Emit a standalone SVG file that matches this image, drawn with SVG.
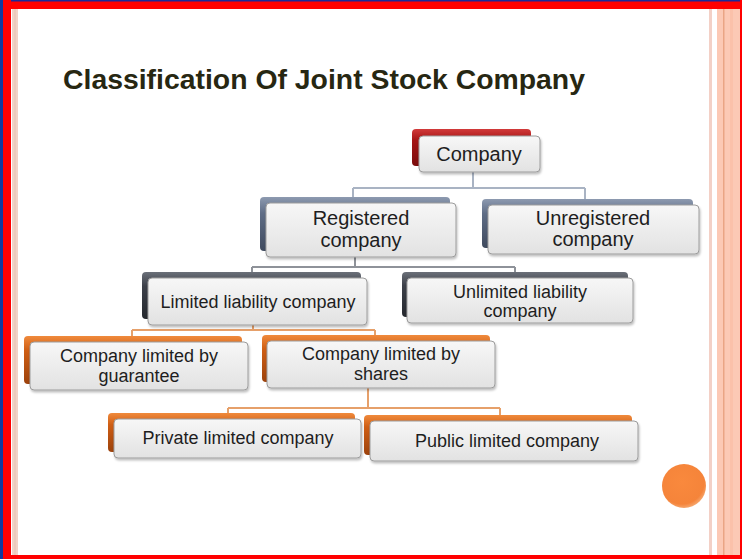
<svg xmlns="http://www.w3.org/2000/svg" width="742" height="559" viewBox="0 0 742 559">
<defs>
<linearGradient id="gFront" x1="0" y1="0" x2="0" y2="1">
<stop offset="0" stop-color="#f7f7f7"/><stop offset="1" stop-color="#e2e2e2"/>
</linearGradient>
<linearGradient id="gRed" x1="0" y1="0" x2="0" y2="1">
<stop offset="0" stop-color="#d23a3a"/><stop offset="0.3" stop-color="#a51515"/><stop offset="1" stop-color="#7a0c0c"/>
</linearGradient>
<linearGradient id="gSlate" x1="0" y1="0" x2="0" y2="1">
<stop offset="0" stop-color="#8d9ab0"/><stop offset="0.3" stop-color="#5f6d86"/><stop offset="1" stop-color="#3f4a5e"/>
</linearGradient>
<linearGradient id="gDark" x1="0" y1="0" x2="0" y2="1">
<stop offset="0" stop-color="#6b7079"/><stop offset="0.3" stop-color="#3c4049"/><stop offset="1" stop-color="#25282e"/>
</linearGradient>
<linearGradient id="gOrange" x1="0" y1="0" x2="0" y2="1">
<stop offset="0" stop-color="#f08a3c"/><stop offset="0.3" stop-color="#cf5e14"/><stop offset="1" stop-color="#9c420c"/>
</linearGradient>
<radialGradient id="gDot" cx="0.45" cy="0.4" r="0.6">
<stop offset="0" stop-color="#f9893d"/><stop offset="0.85" stop-color="#f5843a"/><stop offset="1" stop-color="#f6a46a"/>
</radialGradient>
<filter id="sh" x="-10%" y="-10%" width="125%" height="140%">
<feDropShadow dx="1" dy="2" stdDeviation="1.2" flood-color="#000" flood-opacity="0.25"/>
</filter>
</defs>
<style>
.front{fill:url(#gFront);stroke:#9c9c9c;stroke-width:1;filter:url(#sh)}
.red{fill:url(#gRed)}
.slate{fill:url(#gSlate)}
.dark{fill:url(#gDark)}
.orange{fill:url(#gOrange)}
.t{font-family:"Liberation Sans",Arial,sans-serif;fill:#1e1e1e;text-anchor:middle}
.t20{font-size:20px}
.t18{font-size:18px}
.c1{fill:none;stroke:#a9b3c3;stroke-width:2}
.c2{fill:none;stroke:#8e9299;stroke-width:2}
.c3{fill:none;stroke:#e6a06a;stroke-width:2}
</style>
<!-- background and border -->
<rect x="0" y="0" width="742" height="559" fill="#ffffff"/>
<rect x="12" y="9" width="6" height="546" fill="#f1d3c8"/>
<rect x="14" y="9" width="2" height="546" fill="#eccabd"/>
<rect x="709" y="9" width="3" height="546" fill="#f3d0c6"/>
<rect x="717" y="9" width="23" height="546" fill="#fcc9b5"/>
<rect x="723" y="9" width="1.5" height="546" fill="#eaa585"/>
<rect x="730" y="9" width="3" height="546" fill="#fbc1aa"/>
<rect x="0" y="0" width="742" height="9" fill="#ff0000"/>
<rect x="0" y="0" width="742" height="1.5" fill="#1a2a9a"/>
<rect x="0" y="555" width="742" height="4" fill="#ff0000"/>
<rect x="3" y="0" width="8" height="559" fill="#ff0000"/>
<rect x="0" y="0" width="3" height="559" fill="#0f3a9e"/>
<rect x="740" y="0" width="2" height="559" fill="#ff0000"/>
<!-- title -->
<text x="63" y="89" font-family="'Liberation Sans',Arial,sans-serif" font-weight="bold" font-size="27" fill="#272712" textLength="522" lengthAdjust="spacingAndGlyphs">Classification Of Joint Stock Company</text>
<!-- connectors -->
<g id="connectors">
<path class="c1" d="M473,172 V188 M353,188 H585 M353,188 V198 M585,188 V200"/>
<path class="c2" d="M355,257 V267 M252,267 H515 M252,267 V273 M515,267 V273"/>
<path class="c3" d="M253,325 V330 M132,330 H375 M132,330 V337 M375,330 V336"/>
<path class="c3" d="M368,388 V408 M228,408 H500 M228,408 V414 M500,408 V416"/>
</g>
<!-- nodes -->
<g id="company">
<rect class="red" x="412" y="129" width="119" height="37" rx="4"/>
<rect class="front" x="419" y="136" width="121" height="36" rx="4"/>
<text class="t t20" x="479" y="161">Company</text>
</g>
<g id="registered">
<rect class="slate" x="260" y="197" width="190" height="54" rx="4"/>
<rect class="front" x="266" y="203" width="190" height="54" rx="4"/>
<text class="t t20" x="361" y="225">Registered</text>
<text class="t t20" x="361" y="247">company</text>
</g>
<g id="unregistered">
<rect class="slate" x="482" y="199" width="211" height="49" rx="4"/>
<rect class="front" x="488" y="205" width="211" height="49" rx="4"/>
<text class="t t20" x="593" y="225">Unregistered</text>
<text class="t t20" x="593" y="246">company</text>
</g>
<g id="limited-liability">
<rect class="dark" x="142" y="272" width="219" height="47" rx="4"/>
<rect class="front" x="148" y="278" width="219" height="47" rx="4"/>
<text class="t t18" x="258" y="308">Limited liability company</text>
</g>
<g id="unlimited-liability">
<rect class="dark" x="402" y="272" width="226" height="45" rx="4"/>
<rect class="front" x="407" y="278" width="226" height="45" rx="4"/>
<text class="t t18" x="520" y="298">Unlimited liability</text>
<text class="t t18" x="520" y="317">company</text>
</g>
<g id="guarantee">
<rect class="orange" x="24" y="336" width="218" height="48" rx="4"/>
<rect class="front" x="30" y="342" width="218" height="48" rx="4"/>
<text class="t t18" x="139" y="362">Company limited by</text>
<text class="t t18" x="139" y="382">guarantee</text>
</g>
<g id="shares">
<rect class="orange" x="262" y="335" width="228" height="47" rx="4"/>
<rect class="front" x="267" y="341" width="228" height="47" rx="4"/>
<text class="t t18" x="381" y="360">Company limited by</text>
<text class="t t18" x="381" y="380">shares</text>
</g>
<g id="private">
<rect class="orange" x="108" y="413" width="247" height="39" rx="4"/>
<rect class="front" x="114" y="419" width="247" height="39" rx="4"/>
<text class="t t18" x="238" y="444">Private limited company</text>
</g>
<g id="public">
<rect class="orange" x="364" y="415" width="268" height="40" rx="4"/>
<rect class="front" x="370" y="421" width="268" height="40" rx="4"/>
<text class="t t18" x="507" y="447">Public limited company</text>
</g>
<circle cx="684" cy="486" r="22" fill="url(#gDot)"/>
</svg>
